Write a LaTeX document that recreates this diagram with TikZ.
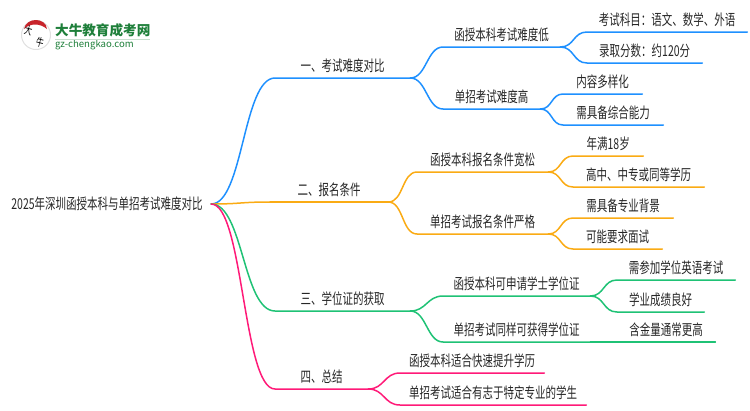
\documentclass[tikz,border=0pt]{standalone}
\usepackage{fontspec}
\setmainfont{Noto Sans CJK SC}
\newfontfamily\cjk[FakeStretch=0.7]{Noto Sans CJK SC}
\usetikzlibrary{positioning}
\definecolor{lineblue}{HTML}{1E90FF}
\definecolor{lineorange}{HTML}{FAAB14}
\definecolor{linegreen}{HTML}{1FC275}
\definecolor{linepink}{HTML}{FF1A78}
\definecolor{logogreen}{HTML}{1E7F3A}
\definecolor{logored}{HTML}{C8242B}
\tikzset{
  topic/.style={anchor=south west,inner xsep=0pt,inner ysep=5pt,align=center,
                text=black!85,font=\cjk\fontsize{15}{17}\selectfont},
  link/.style={to path={.. controls +(#1,0) and +(-#1,0) .. (\tikztotarget)}},
  rule/.style={line width=1.5pt,line cap=round}
}

\begin{document}
\begin{tikzpicture}[x=1pt,y=-1pt]
  \useasboundingbox (0,0) rectangle (750,410);

  % logo
  \node[circle,draw=black!12,line width=1pt,fill=white,minimum size=29pt,inner sep=0pt] (badge) at (36,35) {};
  \fill[logored] (24,29) .. controls (26,17) and (46,17) .. (47,29) .. controls (40,23) and (30,23) .. (24,29) -- cycle;
  \node[inner sep=0pt,font=\cjk\fontsize{11}{11}\selectfont,rotate=-15] (da) at (28.5,30.5) {大};
  \node[inner sep=0pt,font=\cjk\fontsize{11}{11}\selectfont,rotate=-15] (niu) at (40,42) {牛};
  \node[anchor=west,inner sep=0pt,text=logogreen,font=\fontsize{13.6}{14}\selectfont\bfseries] (brand) at (55,30) {大牛教育成考网};
  \node[anchor=west,inner sep=0pt,text=logogreen,font=\fontsize{9.6}{10}\selectfont] (site) at (55,45) {gz-chengkao.com};
  \draw[logogreen!25] (brand.south west) ++(0,2) -- ++(95,0);

  \node[topic,anchor=center,minimum width=208pt] (root) at (107,204) {2025年深圳函授本科与单招考试难度对比};

  % one
  \node[topic,minimum width=135pt] (one) at (275,78) {一、考试难度对比};
  \node[topic,minimum width=117pt] (oneA) at (443,47) {函授本科考试难度低};
  \node[topic,minimum width=160pt] (oneAa) at (587,32) {考试科目：语文、数学、外语};
  \node[topic,minimum width=115pt] (oneAb) at (587,63) {录取分数：约120分};
  \node[topic,minimum width=97pt] (oneB) at (443,109) {单招考试难度高};
  \node[topic,minimum width=79pt] (oneBa) at (563,94) {内容多样化};
  \node[topic,minimum width=100pt] (oneBb) at (563,125) {需具备综合能力};

  % two
  \node[topic,minimum width=118pt] (two) at (270,202) {二、报名条件};
  \node[topic,minimum width=131pt] (twoA) at (417,172) {函授本科报名条件宽松};
  \node[topic,minimum width=70pt] (twoAa) at (573,156) {年满18岁};
  \node[topic,minimum width=131pt] (twoAb) at (573,187) {高中、中专或同等学历};
  \node[topic,minimum width=131pt] (twoB) at (417,234) {单招考试报名条件严格};
  \node[topic,minimum width=100pt] (twoBa) at (573,218) {需具备专业背景};
  \node[topic,minimum width=89pt] (twoBb) at (573,249) {可能要求面试};

  % three
  \node[topic,minimum width=135pt] (three) at (275,311) {三、学位证的获取};
  \node[topic,minimum width=147pt] (threeA) at (443,296) {函授本科可申请学士学位证};
  \node[topic,minimum width=118pt] (threeAa) at (617,280) {需参加学位英语考试};
  \node[topic,minimum width=87pt] (threeAb) at (617,312) {学业成绩良好};
  \node[topic,minimum width=147pt] (threeB) at (443,342) {单招考试同样可获得学位证};
  \node[topic,minimum width=98pt] (threeBa) at (617,342) {含金量通常更高};

  % four
  \node[topic,minimum width=93pt] (four) at (275,389) {四、总结};
  \node[topic,minimum width=144pt] (fourA) at (400,373) {函授本科适合快速提升学历};
  \node[topic,minimum width=186pt] (fourB) at (400,405) {单招考试适合有志于特定专业的学生};

  \begin{scope}[rule,draw=lineblue]
    \draw (root.east) to[link=32] (one.south west) -- (one.south east);
    \draw (one.south east) to[link=16] (oneA.south west) -- (oneA.south east);
    \draw (one.south east) to[link=16] (oneB.south west) -- (oneB.south east);
    \draw (oneA.south east) to[link=14] (oneAa.south west) -- (oneAa.south east);
    \draw (oneA.south east) to[link=14] (oneAb.south west) -- (oneAb.south east);
    \draw (oneB.south east) to[link=12] (oneBa.south west) -- (oneBa.south east);
    \draw (oneB.south east) to[link=12] (oneBb.south west) -- (oneBb.south east);
  \end{scope}
  \begin{scope}[rule,draw=lineorange]
    \draw (two.south west) -- (two.south east);
    \draw (two.south east) to[link=15] (twoA.south west) -- (twoA.south east);
    \draw (two.south east) to[link=15] (twoB.south west) -- (twoB.south east);
    \draw (twoA.south east) to[link=13] (twoAa.south west) -- (twoAa.south east);
    \draw (twoA.south east) to[link=13] (twoAb.south west) -- (twoAb.south east);
    \draw (twoB.south east) to[link=13] (twoBa.south west) -- (twoBa.south east);
    \draw (twoB.south east) to[link=13] (twoBb.south west) -- (twoBb.south east);
    \draw (root.east) to[link=30] (two.south west);
  \end{scope}
  \begin{scope}[rule,draw=linegreen]
    \draw (root.east) to[link=32] (three.south west) -- (three.south east);
    \draw (three.south east) to[link=16] (threeA.south west) -- (threeA.south east);
    \draw (three.south east) to[link=16] (threeB.south west) -- (threeB.south east);
    \draw (threeA.south east) to[link=14] (threeAa.south west) -- (threeAa.south east);
    \draw (threeA.south east) to[link=14] (threeAb.south west) -- (threeAb.south east);
    \draw (threeB.south east) -- (threeBa.south west) -- (threeBa.south east);
  \end{scope}
  \begin{scope}[rule,draw=linepink]
    \draw (root.east) to[link=32] (four.south west) -- (four.south east);
    \draw (four.south east) to[link=16] (fourA.south west) -- (fourA.south east);
    \draw (four.south east) to[link=16] (fourB.south west) -- (fourB.south east);
  \end{scope}
\end{tikzpicture}
\end{document}
